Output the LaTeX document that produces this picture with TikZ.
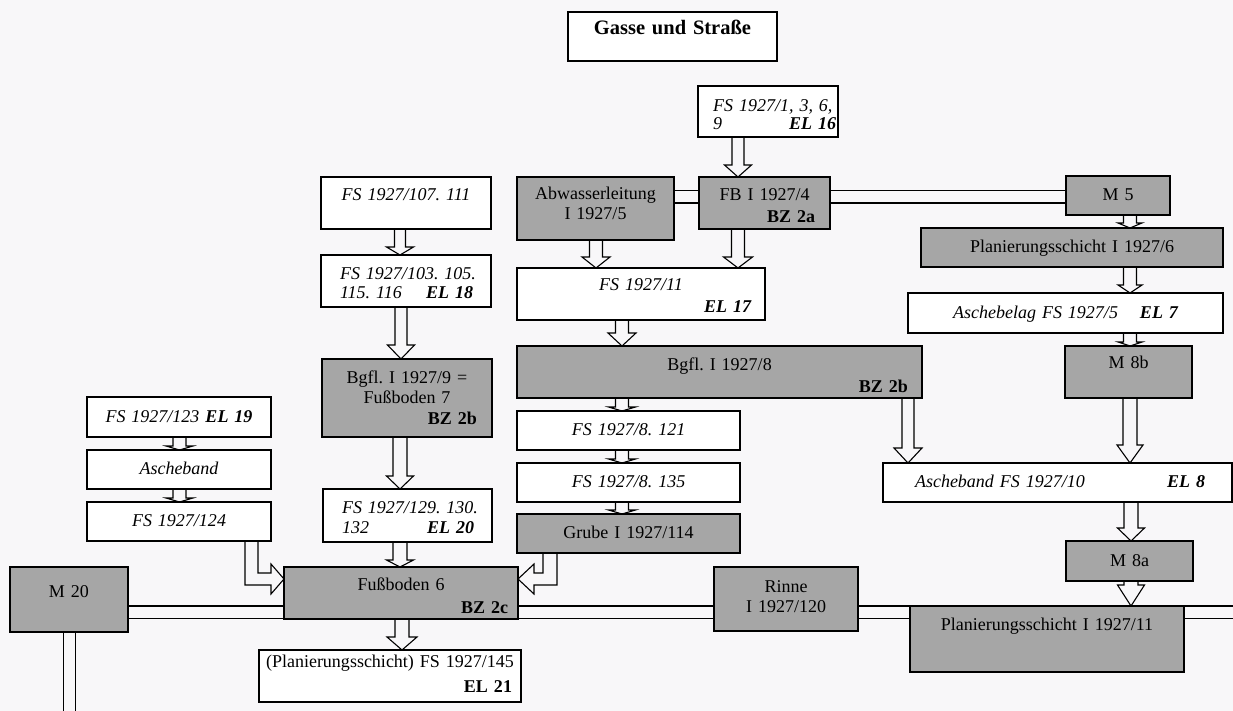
\documentclass[tikz,border=0pt]{standalone}
\usepackage{fontspec}
\setmainfont{Liberation Serif}
\usetikzlibrary{calc}
\frenchspacing
\definecolor{bgc}{RGB}{248,247,249}
\definecolor{boxgrey}{RGB}{166,166,166}
\pgfdeclarelayer{back}
\pgfdeclarelayer{links}
\pgfsetlayers{back,links,main}
% centred line / right-aligned line inside a box
\newcommand{\ctr}[1]{\hfill#1\hfill\null}
\newcommand{\rgt}[2]{\hfill#1\hspace*{#2}\null}
% hollow downward arrow: x, source node, target node, stem half width, head half width, head length
\newcommand{\hdown}[6]{%
  \filldraw[harrow] let \p1=(#2.south), \p2=(#3.north) in
    (#1pt-#4pt,\y1) -- (#1pt-#4pt,\y2+#6pt) -- (#1pt-#5pt,\y2+#6pt) -- (#1pt,\y2)
    -- (#1pt+#5pt,\y2+#6pt) -- (#1pt+#4pt,\y2+#6pt) -- (#1pt+#4pt,\y1);}
\tikzset{
  bx/.style n args={5}{draw=black, line width=1.2pt, inner sep=0pt, outer sep=0pt,
    anchor=north west, at={(#1,#2)}, text width={(#3-#1)*1pt},
    text height={(#5-#2)*1pt}, text depth={(#4-#5)*1pt},
    font=\fontsize{18}{20}\selectfont},
  grey/.style={fill=boxgrey},
  plain/.style={fill=white},
  ital/.style={fill=white, font=\fontsize{18}{20}\selectfont\itshape},
  titlebox/.style={fill=white, font=\fontsize{20.5}{24}\selectfont\bfseries},
  harrow/.style={draw=black, line width=1.1pt, fill=bgc, line join=miter},
  dbl/.style={draw=black, line width=1.2pt, double=bgc, double distance=11pt},
}
\begin{document}
\begin{tikzpicture}[x=1pt, y=-1pt]
\useasboundingbox (0,0) rectangle (1233,711);
\begin{pgfonlayer}{back}
  \fill[bgc] (0,0) rectangle (1233,711);
\end{pgfonlayer}

% title
\node[bx={568}{12}{777}{61}{35}, titlebox] (title) {\ctr{Gasse und Straße}};

% middle column
\node[bx={698}{86}{838}{137}{112}, ital] (fs1)
  {\hspace*{15pt}FS 1927/1, 3, 6,\\[-2pt]\hspace*{15pt}9\hfill\textbf{EL 16}\hspace*{2pt}\null};
\node[bx={699}{177}{830}{229}{201}, grey] (fb)
  {\ctr{FB I 1927/4}\\[1pt]\rgt{\textbf{BZ 2a}}{15pt}};
\node[bx={517}{177}{674}{240}{200}, grey] (abw)
  {\ctr{Abwasserleitung}\\\ctr{I 1927/5}};
\node[bx={517}{268}{765}{320}{290}, ital] (fs11)
  {\ctr{FS 1927/11}\\[2pt]\rgt{\textbf{EL 17}}{14pt}};
\node[bx={517}{346}{922}{398}{370}, grey] (bg8)
  {\ctr{Bgfl. I 1927/8}\\[2pt]\rgt{\textbf{BZ 2b}}{14pt}};
\node[bx={517}{411}{740}{450}{435}, ital] (fs8a) {\ctr{FS 1927/8. 121}};
\node[bx={517}{463}{740}{502}{487}, ital] (fs8b) {\ctr{FS 1927/8. 135}};
\node[bx={517}{514}{740}{553}{538}, grey] (grube) {\ctr{Grube I 1927/114}};

% second column
\node[bx={321}{177}{491}{229}{201}, ital] (fs107) {\ctr{FS 1927/107. 111}};
\node[bx={321}{255}{491}{307}{279}, ital] (fs103)
  {\hspace*{19pt}FS 1927/103. 105.\\\hspace*{19pt}115. 116\hfill\textbf{EL 18}\hspace*{18pt}\null};
\node[bx={322}{359}{492}{437}{383}, grey] (bg9)
  {\ctr{Bgfl. I 1927/9 =}\\\ctr{Fußboden 7}\\[1pt]\rgt{\textbf{BZ 2b}}{15pt}};
\node[bx={323}{489}{492}{542}{513}, ital] (fs129)
  {\hspace*{19pt}FS 1927/129. 130.\\\hspace*{19pt}132\hfill\textbf{EL 20}\hspace*{18pt}\null};
\node[bx={284}{567}{518}{619}{590}, grey] (fb6)
  {\ctr{Fußboden 6}\\[3pt]\rgt{\textbf{BZ 2c}}{10pt}};
\node[bx={259}{650}{521}{702}{667}, plain] (pl145)
  {\ctr{(Planierungsschicht) FS 1927/145}\\[5pt]\rgt{\textbf{EL 21}}{9pt}};

% left column
\node[bx={87}{397}{271}{437}{422}, ital] (fs123) {\ctr{FS 1927/123 \textbf{EL 19}}};
\node[bx={87}{450}{271}{489}{474}, ital] (asche) {\ctr{Ascheband}};
\node[bx={87}{502}{271}{541}{526}, ital] (fs124) {\ctr{FS 1927/124}};
\node[bx={10}{567}{128}{632}{597}, grey] (m20) {\ctr{M 20}};

% right column
\node[bx={1066}{176}{1170}{215}{201}, grey] (m5) {\ctr{M 5}};
\node[bx={921}{228}{1223}{267}{253}, grey] (pl6) {\ctr{Planierungsschicht I 1927/6}};
\node[bx={908}{293}{1223}{333}{318}, ital] (asb)
  {\ctr{Aschebelag FS 1927/5\hspace{22pt}\textbf{EL 7}}};
\node[bx={1065}{346}{1192}{398}{368}, grey] (m8b) {\ctr{M 8b}};
\node[bx={883}{463}{1232}{502}{487}, ital] (ab10)
  {\hspace*{32pt}Ascheband FS 1927/10\hfill\textbf{EL 8}\hspace*{27pt}\null};
\node[bx={1066}{541}{1193}{581}{566}, grey] (m8a) {\ctr{M 8a}};
\node[bx={714}{567}{858}{631}{592}, grey] (rinne) {\ctr{Rinne}\\\ctr{I 1927/120}};
\node[bx={910}{606}{1184}{672}{630}, grey] (pl11) {\ctr{Planierungsschicht I 1927/11}};

% reference rows for the double lines
\coordinate (rowA) at (0,197);
\coordinate (rowB) at (0,612);
\coordinate (redge) at (1233,612);
\coordinate (bedge) at (69.5,711);

\begin{pgfonlayer}{links}
  % double lines
  \draw[dbl] (abw.east |- rowA) -- (fb.west |- rowA);
  \draw[dbl] (fb.east |- rowA) -- (m5.west |- rowA);
  \draw[dbl] (m20.east |- rowB) -- (fb6.west |- rowB);
  \draw[dbl] (fb6.east |- rowB) -- (rinne.west |- rowB);
  \draw[dbl] (rinne.east |- rowB) -- (pl11.west |- rowB);
  \draw[dbl] (pl11.east |- rowB) -- (redge);
  \draw[dbl] (m20.south -| bedge) -- (bedge);

  % hollow arrows
  \hdown{738}{fs1}{fb}{6}{13.5}{12}
  \hdown{738}{fb}{fs11}{6.5}{14.5}{11}
  \hdown{596}{abw}{fs11}{6.5}{14}{11}
  \hdown{622}{fs11}{bg8}{6.5}{14}{13}
  \hdown{622}{bg8}{fs8a}{6.5}{13.5}{4}
  \hdown{622}{fs8a}{fs8b}{6.5}{13.5}{4}
  \hdown{622}{fs8b}{grube}{6.5}{13.5}{4}
  \hdown{400}{fs107}{fs103}{5.5}{13.5}{8}
  \hdown{401}{fs103}{bg9}{6}{13.5}{14}
  \hdown{400}{bg9}{fs129}{7}{13.5}{13}
  \hdown{400}{fs129}{fb6}{7}{13.5}{7}
  \hdown{402}{fb6}{pl145}{7}{15}{13}
  \hdown{179.5}{fs123}{asche}{6.5}{13.5}{4}
  \hdown{179.5}{asche}{fs124}{6.5}{13.5}{4}
  \hdown{1130}{m5}{pl6}{6.5}{12}{5}
  \hdown{1130}{pl6}{asb}{6.5}{12}{8}
  \hdown{1130}{asb}{m8b}{6.5}{12}{4}
  \hdown{1130}{m8b}{ab10}{7}{13}{18}
  \hdown{908}{bg8}{ab10}{6}{14}{15}
  \hdown{1131}{ab10}{m8a}{7}{13.5}{13}
  \hdown{1131}{m8a}{pl11}{7}{13.5}{21}

  % elbow arrows into Fussboden 6
  \filldraw[harrow] let \p1=(fs124.south), \p2=(fb6.west) in
    (245pt,\y1) -- (245pt,-585pt) -- (\x2-13pt,-585pt) -- (\x2-13pt,-594pt)
    -- (\x2,-579pt) -- (\x2-13pt,-564pt) -- (\x2-13pt,-573pt) -- (258pt,-573pt) -- (258pt,\y1);
  \filldraw[harrow] let \p1=(grube.south), \p2=(fb6.east) in
    (557pt,\y1) -- (557pt,-585pt) -- (\x2+16pt,-585pt) -- (\x2+16pt,-594pt)
    -- (\x2,-579pt) -- (\x2+16pt,-564pt) -- (\x2+16pt,-573pt) -- (543pt,-573pt) -- (543pt,\y1);
\end{pgfonlayer}
\end{tikzpicture}
\end{document}
